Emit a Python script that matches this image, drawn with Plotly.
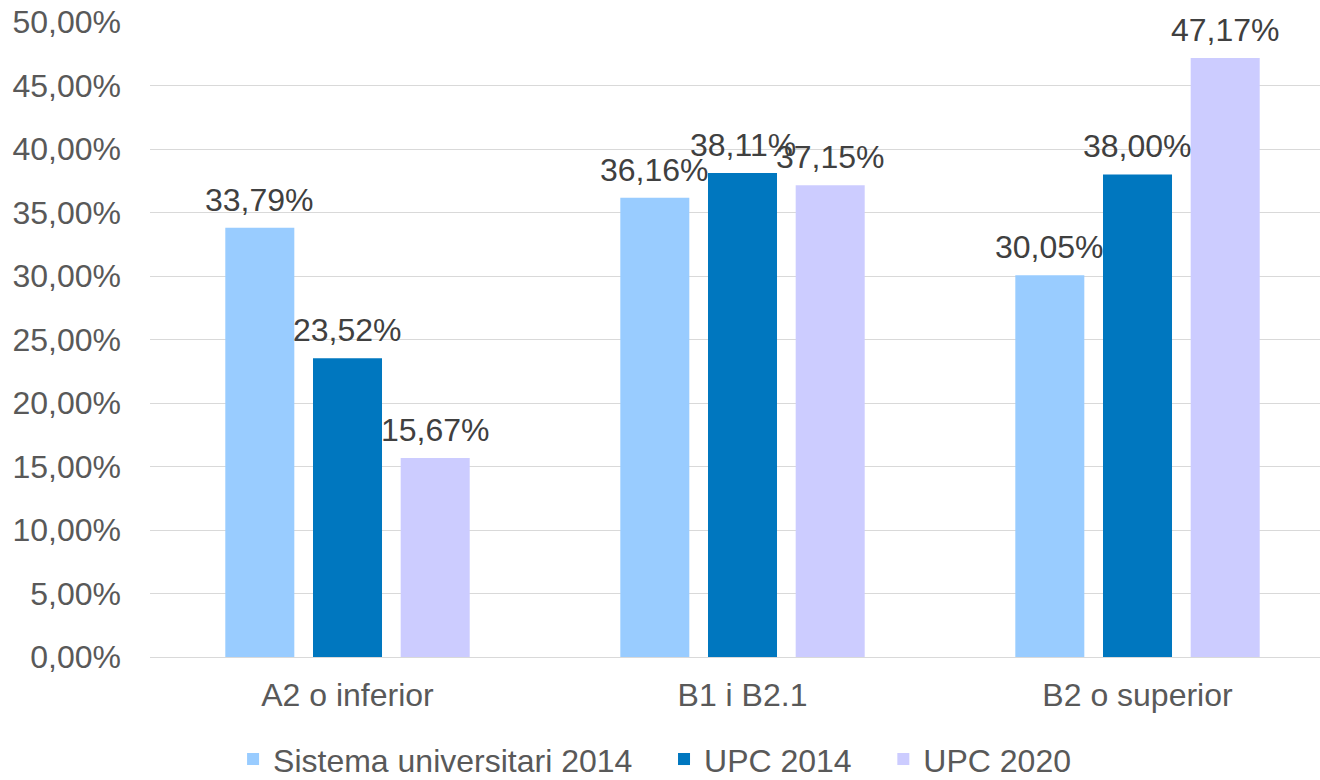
import plotly.graph_objects as go

categories = ["A2 o inferior", "B1 i B2.1", "B2 o superior"]
series_names = ["Sistema universitari 2014", "UPC 2014", "UPC 2020"]
sistema_2014 = [33.79, 36.16, 30.05]
upc_2014 = [23.52, 38.11, 38.00]
upc_2020 = [15.67, 37.15, 47.17]
y_ticks = [0, 5, 10, 15, 20, 25, 30, 35, 40, 45, 50]
y_tick_labels = ["0,00%", "5,00%", "10,00%", "15,00%", "20,00%", "25,00%",
                 "30,00%", "35,00%", "40,00%", "45,00%", "50,00%"]

series_values = [sistema_2014, upc_2014, upc_2020]
colors = ["#99CCFF", "#0077BF", "#CCCCFF"]
FONT = "Liberation Sans, Arial, sans-serif"
FS = 32
PAD = "\u00a0\u00a0\u00a0"  # spacing between legend entries

bargap = 0.334
fig = go.Figure()
x_pos = list(range(len(categories)))
n = len(series_names)
for k, (name, vals, col) in enumerate(zip(series_names, series_values, colors)):
    fig.add_trace(go.Bar(x=x_pos, y=vals, name=name + (PAD if k < n - 1 else ""),
                         marker=dict(color=col, line=dict(width=0))))

slot = (1 - bargap) / len(series_values)
annotations = []
for j, vals in enumerate(series_values):
    off = (j - (len(series_values) - 1) / 2) * slot
    for i, v in enumerate(vals):
        annotations.append(dict(
            x=i + off, y=v, xref="x", yref="y",
            text=f"{v:.2f}".replace(".", ",") + "%",
            showarrow=False, yanchor="bottom", xanchor="center", yshift=8,
            font=dict(family=FONT, size=FS, color="#404040"),
        ))

fig.update_layout(
    barmode="group", bargap=bargap, bargroupgap=0.213,
    width=1320, height=780,
    margin=dict(l=150, r=0, t=22, b=123, autoexpand=False),
    plot_bgcolor="white", paper_bgcolor="white",
    font=dict(family=FONT, size=FS, color="#595959"),
    annotations=annotations,
    showlegend=True,
    legend=dict(orientation="h", x=0.071, xanchor="left", y=-0.161, yanchor="middle",
                font=dict(family=FONT, size=FS, color="#595959"), bgcolor="rgba(0,0,0,0)",
                traceorder="normal"),
)
fig.update_xaxes(
    range=[-0.5, 2.462], tickvals=x_pos, ticktext=categories, showgrid=False,
    showline=False, zeroline=False, ticks="", automargin=False,
    tickfont=dict(family=FONT, size=FS, color="#595959"), ticklabelstandoff=16,
)
fig.update_yaxes(
    range=[0, 50], tickvals=y_ticks, ticktext=y_tick_labels,
    showgrid=True, gridcolor="#D9D9D9", gridwidth=1, zeroline=True, zerolinecolor="#D9D9D9",
    zerolinewidth=1, showline=False, ticks="", automargin=False,
    tickfont=dict(family=FONT, size=FS, color="#595959"), ticklabelstandoff=28,
)
fig.write_html("out.html", config={"displayModeBar": False},
               post_script="document.body.style.margin='0';document.body.style.overflow='hidden';")
